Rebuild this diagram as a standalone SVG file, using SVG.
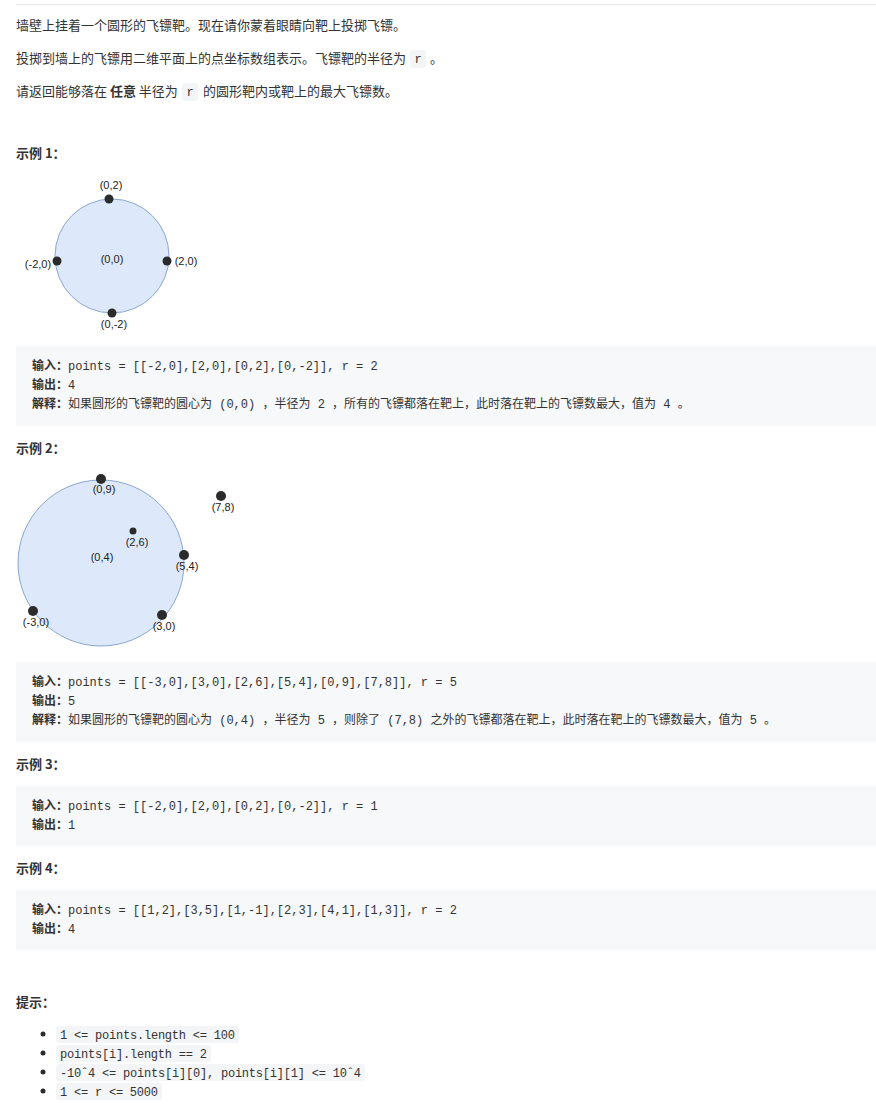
<svg xmlns="http://www.w3.org/2000/svg" width="876" height="1113" viewBox="0 0 876 1113">
<style>
.t{font-family:"Noto Sans CJK SC","Liberation Sans",sans-serif;font-size:13px;fill:#333}
.h{font-family:"Noto Sans CJK SC","Liberation Sans",sans-serif;font-size:13px;font-weight:bold;fill:#333}
.m{font-family:"Liberation Mono","Noto Sans CJK SC",monospace;font-size:12px;fill:#333}
.b{font-family:"Noto Sans CJK SC",sans-serif;font-size:12px;font-weight:bold;fill:#333}
.l{font-family:"Liberation Sans",sans-serif;font-size:11px;fill:#222}
.code{fill:#f7f8fa}
.ic{fill:#f3f5f7}
.dot{fill:#2b2b2b}
.tgt{fill:#dde9fb;stroke:#88a7d0;stroke-width:1}
</style>
<rect width="876" height="1113" fill="#fff"/>
<line x1="16" y1="4.5" x2="876" y2="4.5" stroke="#e8e8e8"/>
<text class="t" x="16" y="30">墙壁上挂着一个圆形的飞镖靶。现在请你蒙着眼睛向靶上投掷飞镖。</text>
<text class="t" x="16" y="63">投掷到墙上的飞镖用二维平面上的点坐标数组表示。飞镖靶的半径为</text>
<rect class="ic" x="410" y="50" width="16" height="18" rx="3"/>
<text class="m" x="418" y="63" text-anchor="middle">r</text>
<text class="t" x="430" y="63">。</text>
<text class="t" x="16" y="96">请返回能够落在 <tspan font-weight="bold">任意</tspan> 半径为</text>
<rect class="ic" x="182" y="83" width="16" height="18" rx="3"/>
<text class="m" x="190" y="96" text-anchor="middle">r</text>
<text class="t" x="203" y="96">的圆形靶内或靶上的最大飞镖数。</text>
<text class="h" x="16" y="158">示例 1：</text>
<g id="ex1">
<circle class="tgt" cx="112" cy="256" r="57"/>
<circle class="dot" cx="109" cy="199" r="4.5"/>
<circle class="dot" cx="57" cy="261" r="4.5"/>
<circle class="dot" cx="167" cy="261" r="4.5"/>
<circle class="dot" cx="112" cy="313" r="4.5"/>
<text class="l" x="111" y="189" text-anchor="middle">(0,2)</text>
<text class="l" x="112" y="263" text-anchor="middle">(0,0)</text>
<text class="l" x="38" y="268" text-anchor="middle">(-2,0)</text>
<text class="l" x="186" y="265" text-anchor="middle">(2,0)</text>
<text class="l" x="114" y="328" text-anchor="middle">(0,-2)</text>
</g>
<rect class="code" x="16" y="346" width="860" height="80"/>
<text class="m" x="32" y="370"><tspan class="b">输入：</tspan>points = [[-2,0],[2,0],[0,2],[0,-2]], r = 2</text>
<text class="m" x="32" y="389"><tspan class="b">输出：</tspan>4</text>
<text class="m" x="32" y="408"><tspan class="b">解释：</tspan>如果圆形的飞镖靶的圆心为 (0,0) ，半径为 2 ，所有的飞镖都落在靶上，此时落在靶上的飞镖数最大，值为 4 。</text>
<text class="h" x="16" y="453">示例 2：</text>
<g id="ex2">
<circle class="tgt" cx="101" cy="563" r="83"/>
<circle class="dot" cx="101" cy="479" r="5"/>
<circle class="dot" cx="221" cy="496" r="5"/>
<circle class="dot" cx="133" cy="531" r="3.5"/>
<circle class="dot" cx="184" cy="555" r="5"/>
<circle class="dot" cx="33" cy="611" r="5"/>
<circle class="dot" cx="162" cy="615" r="5"/>
<text class="l" x="104" y="493" text-anchor="middle">(0,9)</text>
<text class="l" x="223" y="511" text-anchor="middle">(7,8)</text>
<text class="l" x="137" y="546" text-anchor="middle">(2,6)</text>
<text class="l" x="102" y="561" text-anchor="middle">(0,4)</text>
<text class="l" x="187" y="570" text-anchor="middle">(5,4)</text>
<text class="l" x="36" y="626" text-anchor="middle">(-3,0)</text>
<text class="l" x="164" y="630" text-anchor="middle">(3,0)</text>
</g>
<rect class="code" x="16" y="662" width="860" height="80"/>
<text class="m" x="32" y="686"><tspan class="b">输入：</tspan>points = [[-3,0],[3,0],[2,6],[5,4],[0,9],[7,8]], r = 5</text>
<text class="m" x="32" y="705"><tspan class="b">输出：</tspan>5</text>
<text class="m" x="32" y="724"><tspan class="b">解释：</tspan>如果圆形的飞镖靶的圆心为 (0,4) ，半径为 5 ，则除了 (7,8) 之外的飞镖都落在靶上，此时落在靶上的飞镖数最大，值为 5 。</text>
<text class="h" x="16" y="769">示例 3：</text>
<rect class="code" x="16" y="786" width="860" height="60"/>
<text class="m" x="32" y="810"><tspan class="b">输入：</tspan>points = [[-2,0],[2,0],[0,2],[0,-2]], r = 1</text>
<text class="m" x="32" y="829"><tspan class="b">输出：</tspan>1</text>
<text class="h" x="16" y="873">示例 4：</text>
<rect class="code" x="16" y="890" width="860" height="60"/>
<text class="m" x="32" y="914"><tspan class="b">输入：</tspan>points = [[1,2],[3,5],[1,-1],[2,3],[4,1],[1,3]], r = 2</text>
<text class="m" x="32" y="933"><tspan class="b">输出：</tspan>4</text>
<text class="h" x="16" y="1007">提示：</text>
<g id="hints">
<circle class="dot" cx="43" cy="1034" r="2.5"/>
<circle class="dot" cx="43" cy="1053" r="2.5"/>
<circle class="dot" cx="43" cy="1072" r="2.5"/>
<circle class="dot" cx="43" cy="1091" r="2.5"/>
<rect class="ic" x="56" y="1026" width="183" height="17" rx="3"/>
<rect class="ic" x="56" y="1045" width="155" height="17" rx="3"/>
<rect class="ic" x="56" y="1064" width="309" height="17" rx="3"/>
<rect class="ic" x="56" y="1083" width="106" height="17" rx="3"/>
<text class="m" x="60" y="1039" textLength="175">1 &lt;= points.length &lt;= 100</text>
<text class="m" x="60" y="1058" textLength="147">points[i].length == 2</text>
<text class="m" x="60" y="1077" textLength="301">-10ˆ4 &lt;= points[i][0], points[i][1] &lt;= 10ˆ4</text>
<text class="m" x="60" y="1096" textLength="98">1 &lt;= r &lt;= 5000</text>
</g>
</svg>
